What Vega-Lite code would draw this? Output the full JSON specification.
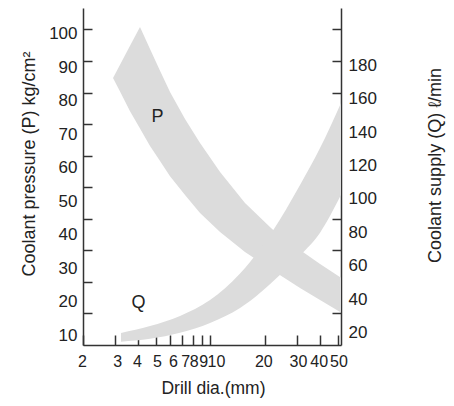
{
  "$schema": "https://vega.github.io/schema/vega-lite/v6.json",
  "width": 258,
  "height": 337,
  "autosize": {"type": "none"},
  "padding": {"left": 83, "top": 8, "right": 113, "bottom": 61},
  "background": "white",
  "config": {
    "view": {"stroke": null},
    "axis": {
      "grid": false,
      "domainColor": "#333333",
      "domainWidth": 1.5,
      "tickColor": "#333333",
      "tickWidth": 1.5,
      "labelFont": "Liberation Sans",
      "labelFontSize": 17,
      "labelColor": "#222222",
      "titleFont": "Liberation Sans",
      "titleFontSize": 17.5,
      "titleFontWeight": "normal",
      "titleColor": "#222222"
    }
  },
  "datasets": {
    "pressure": [
      {"dia": 2.922, "low": 84.6, "high": 84.6},
      {"dia": 3.192, "low": 80.3, "high": 88.8},
      {"dia": 3.622, "low": 74.1, "high": 94.8},
      {"dia": 4.108, "low": 68.6, "high": 100.8},
      {"dia": 4.662, "low": 63.1, "high": 93.8},
      {"dia": 5.29, "low": 58.3, "high": 86.9},
      {"dia": 6.002, "low": 53.5, "high": 80.2},
      {"dia": 7.254, "low": 47.5, "high": 71.6},
      {"dia": 8.768, "low": 41.8, "high": 64.0},
      {"dia": 11.29, "low": 35.8, "high": 54.8},
      {"dia": 15.47, "low": 29.5, "high": 45.0},
      {"dia": 21.77, "low": 23.8, "high": 36.8},
      {"dia": 31.0, "low": 18.1, "high": 30.1},
      {"dia": 39.91, "low": 14.3, "high": 25.7},
      {"dia": 52, "low": 10.3, "high": 21.3}
    ],
    "supply": [
      {"dia": 3.232, "low": 2.1, "high": 7.6},
      {"dia": 4.662, "low": 3.9, "high": 12.0},
      {"dia": 6.811, "low": 7.7, "high": 18.4},
      {"dia": 9.949, "low": 14.0, "high": 28.5},
      {"dia": 14.53, "low": 23.5, "high": 45.3},
      {"dia": 16.49, "low": 27.9, "high": 52.6},
      {"dia": 21.77, "low": 39.8, "high": 71.6},
      {"dia": 31.0, "low": 56.7, "high": 101.4},
      {"dia": 39.91, "low": 71.2, "high": 124.8},
      {"dia": 52, "low": 95.2, "high": 153.4}
    ],
    "labels": [
      {"dia": 5.126, "value": 72.1, "label": "P"},
      {"dia": 4.03, "value": 13.3, "label": "Q"}
    ]
  },
  "encoding": {
    "x": {
      "field": "dia",
      "type": "quantitative",
      "scale": {"type": "log", "domain": [2, 52], "nice": false},
      "axis": {
        "title": "Drill dia.(mm)",
        "titleX": 130,
        "titleY": 43,
        "titleAlign": "center",
        "titleBaseline": "middle",
        "values": [2, 3, 4, 5, 6, 7, 8, 9, 10, 20, 30, 40, 50],
        "format": "d",
        "labelFontSize": 16,
        "tickSize": -10,
        "labelPadding": 18,
        "labelOverlap": false,
        "labelFlush": false,
        "labelBound": false,
        "labelOffset": {"expr": "datum.value == 2 ? -1 : datum.value == 3 ? 2 : datum.value == 4 ? -1 : datum.value == 5 ? 1.5 : datum.value == 6 ? 3 : datum.value == 7 ? 3 : datum.value == 8 ? 1 : datum.value == 9 ? 1 : datum.value == 10 ? 5.5 : datum.value == 20 ? -2 : datum.value == 40 ? -1.5 : 0.5"}
      }
    }
  },
  "layer": [
    {
      "data": {"name": "pressure"},
      "mark": {"type": "area", "color": "#dcdcdc"},
      "encoding": {
        "y": {
          "field": "high",
          "type": "quantitative",
          "scale": {"domain": [0, 106.8], "nice": false, "zero": false},
          "axis": {
            "orient": "left",
            "title": "Coolant  pressure (P) kg/cm²",
            "titleFontSize": 18,
            "titleAngle": 270,
            "titleX": -54,
            "titleY": 155.5,
            "titleAlign": "center",
            "titleBaseline": "middle",
            "values": [10, 20, 30, 40, 50, 60, 70, 80, 90, 100],
            "tickSize": -9,
            "labelPadding": 15,
            "labelOffset": {"expr": "4 + (100 - datum.value) * 0.2"}
          }
        },
        "y2": {"field": "low"}
      }
    },
    {
      "data": {"name": "supply"},
      "mark": {"type": "area", "color": "#dcdcdc", "interpolate": "monotone"},
      "encoding": {
        "y": {
          "field": "high",
          "type": "quantitative",
          "scale": {"domain": [0, 213.6], "nice": false, "zero": false},
          "axis": {
            "orient": "right",
            "title": "Coolant supply (Q) ℓ/min",
            "titleAngle": 270,
            "titleX": 94,
            "titleY": 157,
            "titleAlign": "center",
            "titleBaseline": "middle",
            "titleFontSize": 18,
            "values": [20, 40, 60, 80, 100, 120, 140, 160, 180, 200],
            "labelExpr": "datum.value == 200 ? '' : datum.label",
            "tickSize": -9,
            "labelPadding": 16,
            "labelOffset": {"expr": "20.8 - 0.091 * datum.value"}
          }
        },
        "y2": {"field": "low"}
      }
    },
    {
      "data": {"name": "labels"},
      "mark": {"type": "text", "font": "Liberation Sans", "fontSize": 18, "color": "#222222", "align": "center", "baseline": "middle"},
      "encoding": {
        "y": {
          "field": "value",
          "type": "quantitative",
          "scale": {"domain": [0, 106.8], "nice": false, "zero": false},
          "axis": null
        },
        "text": {"field": "label"}
      }
    }
  ],
  "resolve": {"scale": {"y": "independent"}}
}
